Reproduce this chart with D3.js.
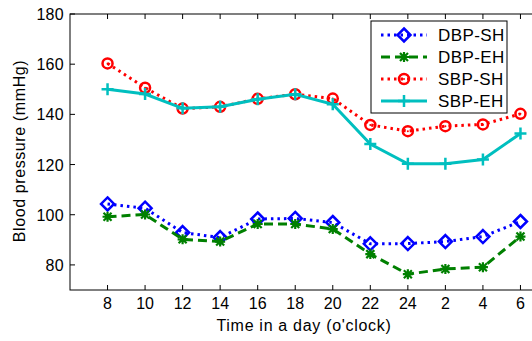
<!DOCTYPE html>
<html>
<head>
<meta charset="utf-8">
<script src="https://cdn.jsdelivr.net/npm/d3@7"></script>
<style>
  body { margin: 0; background: #fff; }
  svg { display: block; font-family: "Liberation Sans", Arial, Helvetica, sans-serif; }
</style>
</head>
<body>
<div id="chart"></div>
<script>
// hours of the day, in plotting order
const hours = ["8", "10", "12", "14", "16", "18", "20", "22", "24", "2", "4", "6"];
const yTicks = [80, 100, 120, 140, 160, 180];

const dbpSH = [104.3, 102.6, 92.9, 90.9, 98.3, 98.5, 96.9, 88.4, 88.5, 89.3, 91.3, 97.3];
const dbpEH = [99.2, 100.1, 90.2, 89.3, 96.3, 96.3, 94.3, 84.3, 76.3, 78.4, 79.1, 91.3];
const sbpSH = [160.3, 150.6, 142.3, 143, 146.2, 148, 146.3, 135.8, 133.3, 135.3, 136, 140.2];
const sbpEH = [150, 148.1, 142.4, 143, 146, 148, 144, 128.2, 120.3, 120.3, 122, 132.4];

const seriesNames = ["DBP-SH", "DBP-EH", "SBP-SH", "SBP-EH"];

const series = [
  { name: seriesNames[0], values: dbpSH, color: "#0000ff", dash: "2.5,4", marker: "diamond" },
  { name: seriesNames[1], values: dbpEH, color: "#008000", dash: "9,5", marker: "star" },
  { name: seriesNames[2], values: sbpSH, color: "#ff0000", dash: "2.5,4", marker: "circle" },
  { name: seriesNames[3], values: sbpEH, color: "#00bfbf", dash: null, marker: "plus" }
];

const width = 532, height = 341;
const margin = { top: 14, left: 70, bottom: 51 };

const svg = d3.select("#chart").append("svg")
  .attr("width", width)
  .attr("height", height);

// x runs one slot past each end; the right edge falls outside the picture
const x = d3.scaleLinear().domain([-1, 12]).range([margin.left, 558]);
const y = d3.scaleLinear().domain([70, 180]).range([height - margin.bottom, margin.top]);

const x0 = x(-1), x1 = x(12), yb = y(70), yt = y(180);

// axes box
svg.append("rect")
  .attr("x", x0).attr("y", yt)
  .attr("width", x1 - x0).attr("height", yb - yt)
  .attr("fill", "none").attr("stroke", "#000").attr("stroke-width", 1);

// x ticks (inward, top and bottom) and labels
hours.forEach((h, i) => {
  const xx = x(i);
  svg.append("line").attr("x1", xx).attr("x2", xx).attr("y1", yb).attr("y2", yb - 5)
    .attr("stroke", "#000");
  svg.append("line").attr("x1", xx).attr("x2", xx).attr("y1", yt).attr("y2", yt + 5)
    .attr("stroke", "#000");
  svg.append("text").attr("x", xx).attr("y", yb + 19)
    .attr("text-anchor", "middle").attr("font-size", 16).text(h);
});

// y ticks and labels
yTicks.forEach(v => {
  const yy = y(v);
  svg.append("line").attr("x1", x0).attr("x2", x0 + 5).attr("y1", yy).attr("y2", yy)
    .attr("stroke", "#000");
  svg.append("text").attr("x", x0 - 6).attr("y", yy + 6)
    .attr("text-anchor", "end").attr("font-size", 16).attr("letter-spacing", 0.3).text(v);
});

svg.append("text")
  .attr("x", 304).attr("y", 331)
  .attr("text-anchor", "middle").attr("font-size", 16).attr("letter-spacing", 0.7)
  .text("Time in a day (o'clock)");

svg.append("text")
  .attr("transform", `translate(25,${(yt + yb) / 2 - 1}) rotate(-90)`)
  .attr("text-anchor", "middle").attr("font-size", 16).attr("letter-spacing", 0.6)
  .text("Blood pressure (mmHg)");

function drawMarker(g, type, cx, cy, color) {
  if (type === "diamond") {
    g.append("path")
      .attr("d", `M${cx},${cy - 6.5}L${cx + 6.5},${cy}L${cx},${cy + 6.5}L${cx - 6.5},${cy}Z`)
      .attr("fill", "none").attr("stroke", color).attr("stroke-width", 2.5);
  } else if (type === "circle") {
    g.append("circle").attr("cx", cx).attr("cy", cy).attr("r", 5)
      .attr("fill", "none").attr("stroke", color).attr("stroke-width", 2.5);
    g.append("circle").attr("cx", cx).attr("cy", cy).attr("r", 1)
      .attr("fill", color);
  } else if (type === "plus") {
    g.append("path")
      .attr("d", `M${cx - 6},${cy}H${cx + 6}M${cx},${cy - 6}V${cy + 6}`)
      .attr("stroke", color).attr("stroke-width", 2.5);
  } else if (type === "star") {
    const r = 5;
    const d = r * 0.8;
    g.append("path")
      .attr("d", `M${cx - r},${cy}H${cx + r}M${cx},${cy - r}V${cy + r}` +
        `M${cx - d},${cy - d}L${cx + d},${cy + d}M${cx - d},${cy + d}L${cx + d},${cy - d}`)
      .attr("stroke", color).attr("stroke-width", 2.2);
  }
}

const line = d3.line().x((d, i) => x(i)).y(d => y(d));

series.forEach(s => {
  const g = svg.append("g");
  g.append("path")
    .datum(s.values)
    .attr("d", line)
    .attr("fill", "none")
    .attr("stroke", s.color)
    .attr("stroke-width", 3)
    .attr("stroke-dasharray", s.dash);
  s.values.forEach((v, i) => drawMarker(g, s.marker, x(i), y(v), s.color));
});

// legend
const lg = svg.append("g");
lg.append("rect")
  .attr("x", 371).attr("y", 21).attr("width", 136).attr("height", 92)
  .attr("fill", "#fff").attr("stroke", "#000").attr("stroke-width", 1);
series.forEach((s, i) => {
  const ly = 35 + i * 22;
  lg.append("line").attr("x1", 381).attr("x2", 427).attr("y1", ly).attr("y2", ly)
    .attr("stroke", s.color).attr("stroke-width", 3).attr("stroke-dasharray", s.dash);
  drawMarker(lg, s.marker, 404, ly, s.color);
  lg.append("text").attr("x", 438).attr("y", ly + 6)
    .attr("font-size", 17).attr("letter-spacing", 0.4).text(s.name);
});
</script>
</body>
</html>
